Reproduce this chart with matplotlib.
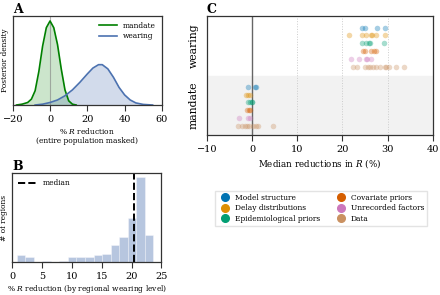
import matplotlib
matplotlib.use("Agg")
import matplotlib.pyplot as plt
from matplotlib.lines import Line2D

plt.rcParams["font.family"] = ["DejaVu Serif"]
plt.rcParams["mathtext.fontset"] = "dejavuserif"
plt.rcParams["font.size"] = 5.4

# --- panel A: posterior densities ---
mandate_x = [-18, -15, -12, -10, -8, -6, -4, -2, 0, 2, 4, 6, 8, 10, 12, 14]
mandate_y = [0, 0.01, 0.03, 0.07, 0.17, 0.40, 0.70, 0.92, 1.0, 0.92, 0.72, 0.43, 0.18, 0.05, 0.01, 0]
wearing_x = [-8, -4, 0, 4, 8, 12, 16, 20, 23, 26, 28, 31, 34, 37, 40, 43, 46, 50, 55]
wearing_y = [0, 0.01, 0.03, 0.06, 0.11, 0.18, 0.27, 0.37, 0.44, 0.48, 0.48, 0.43, 0.33,
             0.21, 0.12, 0.06, 0.025, 0.007, 0]

# --- panel B: histogram of regional reductions ---
bin_left = [0.74 + 1.43 * i for i in range(16)]
bin_counts = [4, 3, 0, 0.6, 0, 0.6, 3, 3, 3, 4, 5, 10, 15, 26, 51, 16]
median_value = 20.4

# --- panel C: sensitivity analysis medians ---
groups = ["Model structure", "Delay distributions", "Epidemiological priors",
          "Covariate priors", "Unrecorded factors", "Data"]
colors = ["#0173b2", "#de8f05", "#029e73", "#d55e00", "#cc78bc", "#ca9161"]
wearing_medians = [
    [24.3, 24.9, 27.7, 29.4],
    [21.4, 24.4, 25.3, 26.3, 26.6, 27.5, 29.4],
    [24.4, 25.3, 25.9, 26.1, 29.1],
    [24.6, 25.0, 26.3, 27.0, 27.5],
    [21.9, 23.7, 25.2, 25.5, 26.3],
    [22.4, 23.2, 25.0, 25.7, 26.0, 26.8, 27.4, 28.2, 29.3, 29.6, 30.2, 31.8, 33.5],
]
mandate_medians = [
    [-0.9, 0.6, 0.8],
    [-1.4, -0.9, -0.5],
    [-0.9, -0.5, -0.1, 0.1],
    [-1.1, -0.7, -0.4],
    [-2.9, -0.9, -0.5],
    [-3.1, -2.2, -1.6, -1.1, -0.7, 0.2, 0.8, 1.3, 4.6],
]

fig = plt.figure(figsize=(4.4, 2.95), dpi=100)
spine_col = "#333333"


def style_axes(ax):
    for s in ax.spines.values():
        s.set_color(spine_col)
        s.set_linewidth(0.9)
    ax.tick_params(axis="x", length=4, width=0.8, color=spine_col, pad=3, labelsize=7)
    ax.set_yticks([])


# Panel A
axA = fig.add_axes([0.029, 0.644, 0.339, 0.302])
axA.axvline(0, color="grey", alpha=0.6, lw=0.8)
axA.plot(mandate_x, mandate_y, color="green", lw=1.2, label="mandate")
axA.fill_between(mandate_x, mandate_y, color="green", alpha=0.2, lw=0)
axA.plot(wearing_x, wearing_y, color="#4c72b0", lw=1.2, label="wearing")
axA.fill_between(wearing_x, wearing_y, color="#4c72b0", alpha=0.25, lw=0)
axA.set_xlim(-20, 60)
axA.set_ylim(0, 1.06)
axA.set_xticks([-20, 0, 20, 40, 60])
axA.set_ylabel("Posterior density", labelpad=3)
axA.set_xlabel("% $R$ reduction\n(entire population masked)", labelpad=1.5)
axA.legend(loc="upper right", frameon=False, handlelength=2.4, borderaxespad=0.4,
           labelspacing=0.3)
style_axes(axA)
fig.text(0.029, 0.955, "A", fontsize=9, fontweight="bold")

# Panel B
axB = fig.add_axes([0.028, 0.112, 0.339, 0.301])
axB.bar(bin_left, bin_counts, width=1.43, align="edge", color="#4c72b0", alpha=0.4,
        edgecolor="white", lw=0.6)
axB.axvline(median_value, color="black", ls="--", lw=1.4, label="median")
axB.set_xlim(0, 25)
axB.set_ylim(0, 53)
axB.set_xticks([0, 5, 10, 15, 20, 25])
axB.set_ylabel("# of regions", labelpad=3)
axB.set_xlabel("% $R$ reduction (by regional wearing level)", labelpad=1.5)
axB.legend(loc="upper left", frameon=False, handlelength=2.4, borderaxespad=0.4)
style_axes(axB)
fig.text(0.029, 0.425, "B", fontsize=9, fontweight="bold")

# Panel C
axC = fig.add_axes([0.470, 0.542, 0.514, 0.403])
axC.axhspan(-0.5, 0.5, color="#f2f2f2", zorder=0)
for gx in [10, 20, 30]:
    axC.axvline(gx, color="#cccccc", ls=":", lw=0.7, zorder=1)
axC.axvline(0, color="#666666", lw=1.0, zorder=1)
offsets = [0.31, 0.18, 0.05, -0.08, -0.22, -0.35]
for i in range(len(groups)):
    axC.scatter(wearing_medians[i], [1 + offsets[i]] * len(wearing_medians[i]),
                s=16, color=colors[i], alpha=0.35, lw=0, zorder=2)
    axC.scatter(mandate_medians[i], [0 + offsets[i]] * len(mandate_medians[i]),
                s=16, color=colors[i], alpha=0.35, lw=0, zorder=2)
axC.set_xlim(-10, 40)
axC.set_ylim(-0.5, 1.5)
axC.set_xticks([-10, 0, 10, 20, 30, 40])
axC.set_xlabel("Median reductions in $R$ (%)", labelpad=2.5, fontsize=6.3)
style_axes(axC)
axC.set_yticks([0, 1])
axC.set_yticklabels(["mandate", "wearing"], rotation=90, va="center", fontsize=7.8)
axC.tick_params(axis="y", length=0, pad=6)
fig.text(0.470, 0.955, "C", fontsize=9, fontweight="bold")

handles = [Line2D([], [], marker="o", ls="", color=c, markersize=5.5) for c in colors]
fig.legend(handles, groups, ncol=2,
           loc="upper left", bbox_to_anchor=(0.480, 0.365), frameon=True,
           handletextpad=0.3, columnspacing=1.8, labelspacing=0.35,
           borderpad=0.35, edgecolor="#dddddd", fancybox=False)

fig.savefig("out.png", dpi=100)
